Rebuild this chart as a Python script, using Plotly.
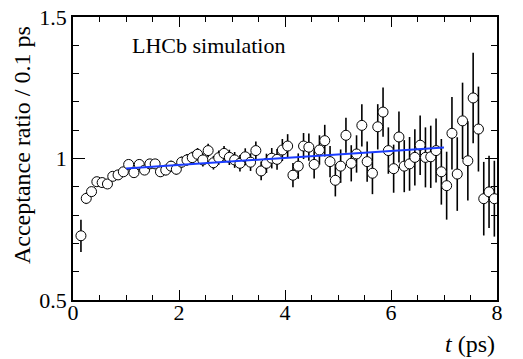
import plotly.graph_objects as go

# bin centres (ps), acceptance ratio and its uncertainty
t_bins = [0.15, 0.25, 0.35, 0.45, 0.55, 0.65, 0.75, 0.85, 0.95,
          1.05, 1.15, 1.25, 1.35, 1.45, 1.55, 1.65, 1.75, 1.85, 1.95,
          2.05, 2.15, 2.25, 2.35, 2.45, 2.55, 2.65, 2.75, 2.85, 2.95,
          3.05, 3.15, 3.25, 3.35, 3.45, 3.55, 3.65, 3.75, 3.85, 3.95,
          4.05, 4.15, 4.25, 4.35, 4.45, 4.55, 4.65, 4.75, 4.85, 4.95,
          5.05, 5.15, 5.25, 5.35, 5.45, 5.55, 5.65, 5.75, 5.85, 5.95,
          6.05, 6.15, 6.25, 6.35, 6.45, 6.55, 6.65, 6.75, 6.85, 6.95,
          7.05, 7.15, 7.25, 7.35, 7.45, 7.55, 7.65, 7.75, 7.85, 7.95]

ratio = [0.727, 0.859, 0.883, 0.918, 0.915, 0.910, 0.937, 0.942, 0.953,
         0.979, 0.950, 0.979, 0.959, 0.981, 0.981, 0.953, 0.959, 0.973, 0.962,
         0.987, 0.995, 1.003, 1.015, 0.995, 1.028, 0.985, 1.003, 1.018, 1.004,
         0.995, 0.983, 1.006, 0.987, 1.028, 0.956, 0.983, 1.001, 0.997, 1.030,
         1.044, 0.941, 0.973, 1.044, 1.040, 0.979, 1.030, 1.063, 0.989, 0.923,
         0.973, 1.082, 0.983, 1.016, 1.117, 0.989, 0.948, 1.112, 1.164, 1.028,
         0.964, 1.076, 0.973, 0.981, 1.004, 1.047, 1.004, 1.006, 1.028, 0.953,
         0.904, 1.089, 0.945, 1.133, 0.992, 1.214, 1.104, 0.858, 0.882, 0.858]

ratio_err = [0.057, 0.020, 0.012, 0.012, 0.012, 0.013, 0.013, 0.014, 0.014,
             0.015, 0.015, 0.016, 0.016, 0.017, 0.017, 0.018, 0.018, 0.019, 0.019,
             0.020, 0.021, 0.021, 0.022, 0.023, 0.024, 0.024, 0.025, 0.026, 0.027,
             0.028, 0.029, 0.030, 0.031, 0.032, 0.033, 0.034, 0.036, 0.037, 0.039,
             0.042, 0.043, 0.045, 0.046, 0.048, 0.050, 0.052, 0.056, 0.055, 0.057,
             0.059, 0.062, 0.064, 0.066, 0.075, 0.071, 0.074, 0.080, 0.087, 0.082,
             0.085, 0.090, 0.092, 0.095, 0.099, 0.105, 0.106, 0.110, 0.113, 0.116,
             0.120, 0.128, 0.130, 0.135, 0.140, 0.160, 0.150, 0.130, 0.128, 0.134]

# linear fit drawn over 1 < t < 7 ps
fit_t = [1.0, 7.0]
fit_ratio = [0.965, 1.039]

x_range = [0, 8]
y_range = [0.5, 1.5]

font_family = "Liberation Serif"

fig = go.Figure()

fig.add_trace(go.Scatter(
    x=t_bins, y=ratio,
    mode='markers',
    marker=dict(symbol='circle', size=10, color='white',
                line=dict(color='black', width=1)),
    error_y=dict(type='data', array=ratio_err, color='black',
                 thickness=1.6, width=0),
    showlegend=False
))

fig.add_trace(go.Scatter(
    x=fit_t, y=fit_ratio,
    mode='lines',
    line=dict(color='#1a3cff', width=2),
    showlegend=False
))

# empty trace so the mirrored top/right axes get drawn with their ticks
fig.add_trace(go.Scatter(x=[None], y=[None], xaxis='x2', yaxis='y2',
                         showlegend=False, hoverinfo='skip'))

axis_common = dict(
    showgrid=False, zeroline=False, automargin=False,
    showline=True, linecolor='black', linewidth=1.5,
    ticks='inside', tickcolor='black', ticklabeloverflow='allow',
    tickfont=dict(family=font_family, size=22, color='black'),
)

fig.update_layout(
    width=523, height=359,
    margin=dict(l=73, r=26, t=17, b=59),
    paper_bgcolor='white', plot_bgcolor='white',
    font=dict(family=font_family, color='black'),
    xaxis=dict(range=x_range, tickvals=[0, 2, 4, 6, 8], ticklen=10,
               ticklabelstandoff=-8,
               minor=dict(dtick=0.5, ticklen=5, ticks='inside', tickcolor='black'),
               **axis_common),
    yaxis=dict(range=y_range, tickvals=[0.5, 1, 1.5], ticktext=['0.5', '1', '1.5'],
               ticklen=12,
               minor=dict(dtick=0.1, ticklen=6, ticks='inside', tickcolor='black'),
               **axis_common),
    xaxis2=dict(range=x_range, overlaying='x', side='top', anchor='y',
                tickvals=[0, 2, 4, 6, 8], ticklen=10, showticklabels=False,
                minor=dict(dtick=0.5, ticklen=5, ticks='inside', tickcolor='black'),
                **axis_common),
    yaxis2=dict(range=y_range, overlaying='y', side='right', anchor='x',
                tickvals=[0.5, 1, 1.5], ticklen=12, showticklabels=False,
                minor=dict(dtick=0.1, ticklen=6, ticks='inside', tickcolor='black'),
                **axis_common),
)

fig.add_annotation(
    text='LHCb simulation', xref='paper', yref='paper',
    x=0.32, y=0.898, xanchor='center', yanchor='middle', showarrow=False,
    font=dict(family=font_family, size=22, color='black')
)

fig.add_annotation(
    text='<i>t</i> (ps)', xref='paper', yref='paper',
    x=1.0, y=-0.154, xanchor='right', yanchor='middle', showarrow=False,
    font=dict(family=font_family, size=24, color='black')
)

fig.add_annotation(
    text='Acceptance ratio / 0.1 ps', xref='paper', yref='paper',
    x=-0.12, y=0.548, textangle=-90, showarrow=False,
    xanchor='center', yanchor='middle',
    font=dict(family=font_family, size=24, color='black')
)

# drop the default body margin so the figure sits at the page corner
fig.write_html("out.html", config={'displayModeBar': False},
               post_script="document.body.style.margin = '0';")
